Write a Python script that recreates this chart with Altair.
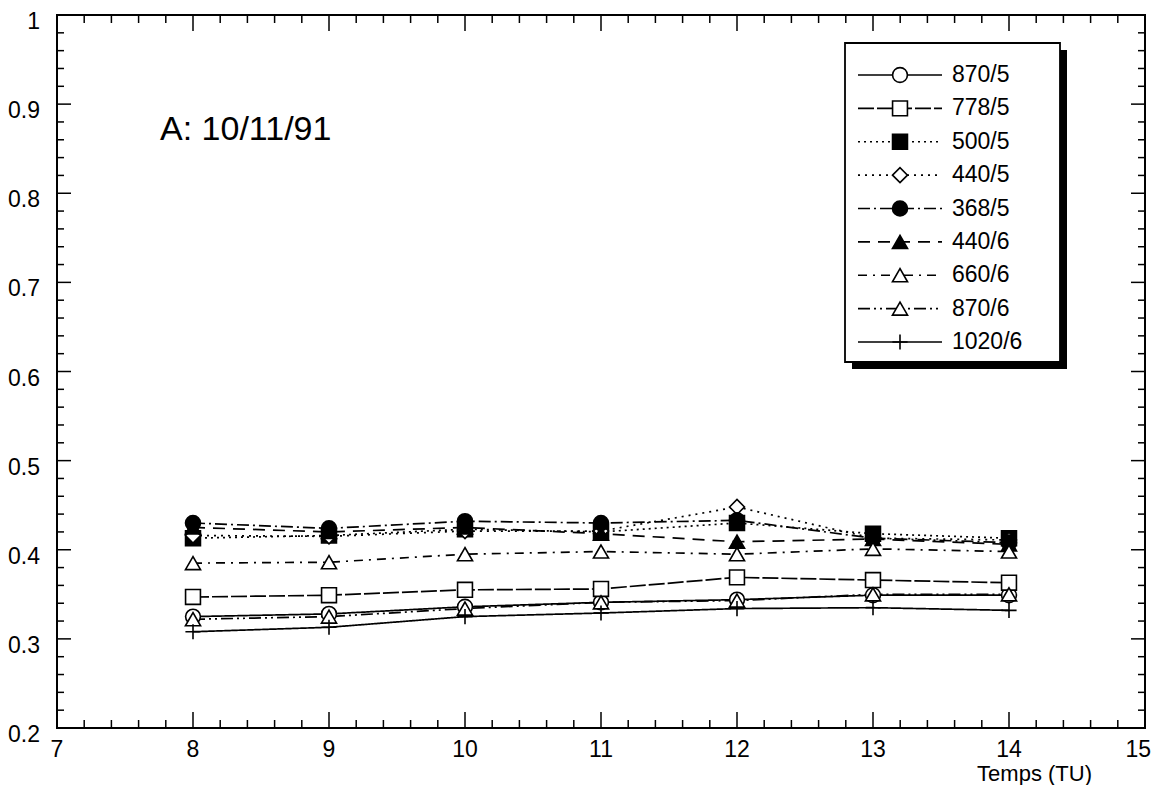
import altair as alt
import pandas as pd
import numpy as np

# ---------------- data ----------------
hours = [8, 9, 10, 11, 12, 13, 14]
series_names = ["870/5", "778/5", "500/5", "440/5", "368/5", "440/6", "660/6", "870/6", "1020/6"]

v_870_5 = [0.325, 0.328, 0.336, 0.341, 0.344, 0.349, 0.349]
v_778_5 = [0.347, 0.349, 0.355, 0.356, 0.369, 0.366, 0.363]
v_500_5 = [0.413, 0.416, 0.423, 0.420, 0.430, 0.418, 0.413]
v_440_5 = [0.416, 0.415, 0.421, 0.421, 0.448, 0.413, 0.411]
v_368_5 = [0.430, 0.424, 0.432, 0.430, 0.433, 0.413, 0.408]
v_440_6 = [0.425, 0.420, 0.425, 0.418, 0.409, 0.412, 0.406]
v_660_6 = [0.385, 0.386, 0.395, 0.398, 0.395, 0.401, 0.398]
v_870_6 = [0.322, 0.325, 0.334, 0.341, 0.343, 0.350, 0.350]
v_1020_6 = [0.308, 0.313, 0.325, 0.329, 0.334, 0.335, 0.332]

values = [v_870_5, v_778_5, v_500_5, v_440_5, v_368_5, v_440_6, v_660_6, v_870_6, v_1020_6]

x_labels = [7, 8, 9, 10, 11, 12, 13, 14, 15]
y_labels = [0.2, 0.3, 0.4, 0.5, 0.6, 0.7, 0.8, 0.9, 1.0]
y_label_text = ["0.2", "0.3", "0.4", "0.5", "0.6", "0.7", "0.8", "0.9", "1"]
annotation = "A: 10/11/91"
x_title = "Temps (TU)"

# ---------------- styles ----------------
dashes = [[1, 0], [16, 3], [2, 4], [2, 5], [12, 4, 2, 4], [12, 8], [9, 6, 2, 6], [12, 4, 2, 4, 2, 4], [1, 0]]
shapes = ["circle", "square", "square", "diamond", "circle", "triangle-up", "triangle-up", "triangle-up",
          "M-1,0H1M0,-1V1"]
fills = ["white", "white", "black", "white", "black", "black", "white", "white", "white"]
sizes = [220, 230, 200, 250, 230, 230, 230, 230, 280]

rows = []
for name, vals in zip(series_names, values):
    for h, v in zip(hours, vals):
        rows.append({"series": name, "hour": h, "value": v})
df = pd.DataFrame(rows)

FONT = "Liberation Sans"
W, H = 1088, 713

xs = alt.Scale(domain=[7, 15], nice=False, zero=False)
ys = alt.Scale(domain=[0.2, 1.0], nice=False, zero=False)
dash_scale = alt.Scale(domain=series_names, range=dashes)
shape_scale = alt.Scale(domain=series_names, range=shapes)
fill_scale = alt.Scale(domain=series_names, range=fills)
size_scale = alt.Scale(domain=series_names, range=sizes)

base = alt.Chart(df)

lines = base.mark_line(color="black", strokeWidth=1.7).encode(
    x=alt.X("hour:Q", scale=xs, axis=None),
    y=alt.Y("value:Q", scale=ys, axis=None),
    strokeDash=alt.StrokeDash("series:N", scale=dash_scale, legend=None),
    detail="series:N",
    order="hour:Q",
)

points = base.mark_point(filled=True, stroke="black", strokeWidth=1.6, opacity=1).encode(
    x=alt.X("hour:Q", scale=xs, axis=None),
    y=alt.Y("value:Q", scale=ys, axis=None),
    shape=alt.Shape("series:N", scale=shape_scale, legend=None),
    fill=alt.Fill("series:N", scale=fill_scale, legend=None),
    size=alt.Size("series:N", scale=size_scale, legend=None),
)

# frame ticks (inward), built from tick positions
x_major = pd.DataFrame({"t": x_labels})
x_minor = pd.DataFrame({"t": [round(v, 2) for v in np.arange(7, 15.001, 0.2) if abs(v - round(v)) > 1e-6]})
y_major = pd.DataFrame({"t": y_labels})
y_minor = pd.DataFrame({"t": [round(v, 3) for v in np.arange(0.2, 1.0001, 0.02) if abs(v * 10 - round(v * 10)) > 1e-6]})


def xticks(data, length):
    bottom = alt.Chart(data).mark_rule(color="black", strokeWidth=1.5).encode(
        x=alt.X("t:Q", scale=xs, axis=None), y=alt.value(H), y2=alt.value(H - length))
    top = alt.Chart(data).mark_rule(color="black", strokeWidth=1.5).encode(
        x=alt.X("t:Q", scale=xs, axis=None), y=alt.value(0), y2=alt.value(length))
    return [bottom, top]


def yticks(data, length):
    left = alt.Chart(data).mark_rule(color="black", strokeWidth=1.5).encode(
        y=alt.Y("t:Q", scale=ys, axis=None), x=alt.value(0), x2=alt.value(length))
    right = alt.Chart(data).mark_rule(color="black", strokeWidth=1.5).encode(
        y=alt.Y("t:Q", scale=ys, axis=None), x=alt.value(W), x2=alt.value(W - length))
    return [left, right]


tick_layers = xticks(x_major, 16) + xticks(x_minor, 8) + yticks(y_major, 14) + yticks(y_minor, 7)

# tick labels as text through the scales
xl_df = pd.DataFrame({"t": x_labels[:-1], "lab": [str(v) for v in x_labels[:-1]]})
xl_last = pd.DataFrame({"t": x_labels[-1:], "lab": [str(v) for v in x_labels[-1:]]})
yl_df = pd.DataFrame({"t": y_labels, "lab": y_label_text})
x_lab = alt.Chart(xl_df).mark_text(align="center", baseline="top", fontSize=23, font=FONT,
                                   color="black").encode(
    x=alt.X("t:Q", scale=xs, axis=None), y=alt.value(H + 11), text="lab:N")
x_lab_last = alt.Chart(xl_last).mark_text(align="right", baseline="top", fontSize=23, font=FONT,
                                          color="black", dx=6).encode(
    x=alt.X("t:Q", scale=xs, axis=None), y=alt.value(H + 11), text="lab:N")
y_lab = alt.Chart(yl_df).mark_text(align="right", baseline="middle", fontSize=23, font=FONT,
                                   color="black", dy=7).encode(
    y=alt.Y("t:Q", scale=ys, axis=None), x=alt.value(-17), text="lab:N")

title_df = pd.DataFrame({"label": [x_title]})
x_tit = alt.Chart(title_df).mark_text(align="right", baseline="middle", fontSize=22, font=FONT,
                                      color="black").encode(
    x=alt.value(1035), y=alt.value(H + 46), text="label:N")

ann_df = pd.DataFrame({"label": [annotation]})
ann = alt.Chart(ann_df).mark_text(align="left", baseline="middle", fontSize=34, font=FONT,
                                  color="black").encode(
    x=alt.value(103), y=alt.value(115), text="label:N")

main = alt.layer(lines, points, ann, x_lab, x_lab_last, y_lab, x_tit, *tick_layers)

# ---------------- legend ----------------
leg_df = pd.DataFrame({"series": series_names})
ly = alt.Y("series:N", scale=alt.Scale(type="point", domain=series_names, range=[60, 327], padding=0),
           axis=None)
box_df = pd.DataFrame({"k": [0]})
shadow = alt.Chart(box_df).mark_rect(color="black").encode(
    x=alt.value(795), x2=alt.value(1010), y=alt.value(35), y2=alt.value(354))
box = alt.Chart(box_df).mark_rect(fill="white", stroke="black", strokeWidth=1.8).encode(
    x=alt.value(788), x2=alt.value(1003), y=alt.value(28), y2=alt.value(347))
leg_lines = alt.Chart(leg_df).mark_rule(color="black", strokeWidth=1.7).encode(
    y=ly, x=alt.value(801), x2=alt.value(885),
    strokeDash=alt.StrokeDash("series:N", scale=dash_scale, legend=None))
leg_pts = alt.Chart(leg_df).mark_point(filled=True, stroke="black", strokeWidth=1.6, opacity=1).encode(
    y=ly, x=alt.value(843),
    shape=alt.Shape("series:N", scale=shape_scale, legend=None),
    fill=alt.Fill("series:N", scale=fill_scale, legend=None),
    size=alt.Size("series:N", scale=size_scale, legend=None))
leg_txt = alt.Chart(leg_df).mark_text(align="left", baseline="middle", fontSize=23, font=FONT,
                                      color="black").encode(
    y=ly, x=alt.value(895), text="series:N")

legend = alt.layer(shadow, box, leg_lines, leg_pts, leg_txt)

chart = alt.layer(main, legend).resolve_scale(y="independent").properties(
    width=W, height=H, padding={"left": 49, "top": 7, "right": 6, "bottom": 57}, autosize="none",
    background="white"
).configure_view(stroke="black", strokeWidth=2)

chart.save("out.html", embed_options={"renderer": "svg", "actions": False})
